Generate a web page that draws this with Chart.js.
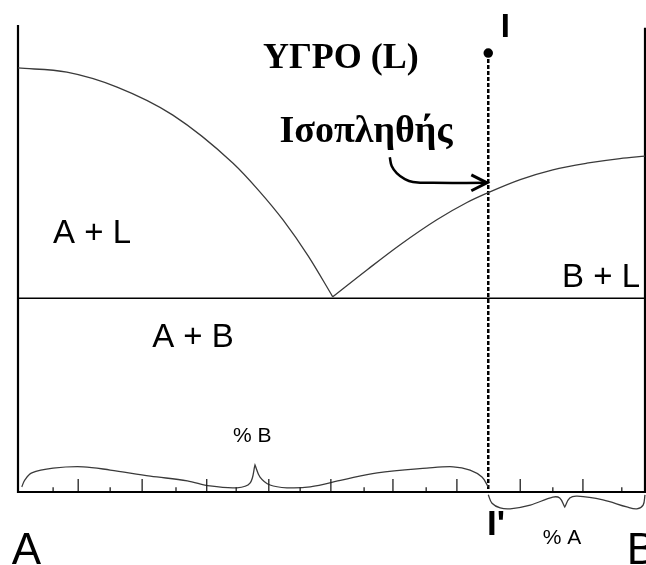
<!DOCTYPE html>
<html>
<head>
<meta charset="utf-8">
<script src="https://cdn.jsdelivr.net/npm/chart.js@4/dist/chart.umd.min.js"></script>
<style>
  html, body { margin: 0; padding: 0; background: #fff; }
  #wrap { width: 646px; height: 565px; position: relative; }
</style>
</head>
<body>
<div id="wrap"><canvas id="canvas"></canvas></div>
<script>
// composition (% B) on x, temperature (arbitrary units) on y

// liquidus of A, from pure A down to the eutectic
let liquidusA = [[0, 90.8], [7.8, 89.9], [15.8, 86.7], [24.7, 80.7], [34.3, 70.4], [38.3, 64.7], [42.3, 58.2], [46.3, 50.5], [50.2, 41.8]];
// liquidus of B, from the eutectic up to pure B
let liquidusB = [[50.2, 41.8], [55.7, 47.6], [60.9, 52.9], [66.8, 58.3], [71.6, 62.0], [74.8, 64.0], [80.1, 66.9], [85.3, 69.0], [90.7, 70.4], [96.0, 71.4], [100, 71.9]];
// eutectic horizontal
let eutecticY = 41.5;
// isopleth (composition of the alloy I), top temperature
let isoplethX = 75;
let isoplethTop = 94;
// frame: left axis, bottom axis, right axis
let frame = [[0, 100], [0, 0], [100, 0], [100, 99.4]];
// ticks on the composition axis
let longTicks = [9.6, 19.8, 30.1, 40, 49.9, 59.8, 70, 80.1, 90.1];
let shortTicks = [5.6, 14.7, 25.2, 34.8, 45, 55.2, 65.1, 85.3, 96.3];
// braces (% B above the axis, % A below), tip point doubled for a sharp cusp
let braceB = [[0.6, 1.1], [1.1, 2.6], [2.2, 4.1], [5.6, 5.1], [10.4, 5.4], [14.7, 4.7], [21.1, 3.4], [27.0, 2.4], [30.6, 1.3], [34.9, 0.9], [37.0, 1.9], [37.8, 5.8], [37.8, 5.8], [38.6, 3.2], [40.2, 1.5], [42.9, 0.9], [46.6, 1.1], [51.8, 2.6], [57.3, 4.1], [65.2, 5.1], [69.4, 5.4], [72.1, 4.7], [74.0, 3.2], [75.0, 1.1]];
let braceA = [[75.0, -0.6], [75.6, -2.4], [76.9, -3.4], [78.5, -3.6], [81.7, -2.8], [85.3, -1.1], [86.4, -1.3], [87.2, -3.2], [87.2, -3.2], [88.0, -1.3], [89.2, -0.9], [93.3, -1.7], [97.1, -3.2], [98.7, -3.6], [99.7, -2.8], [100, -0.6]];
// arrow pointing at the isopleth
let arrowPath = [[59.3, 71.7], [59.6, 69.8], [60.4, 68.3], [61.7, 67.0], [63.0, 66.4], [66.2, 66.2], [74.6, 66.2]];
let arrowHead = [[72.3, 67.9], [74.8, 66.2], [72.3, 64.5]];

// text labels, placed in data units
let labels = [
    { text: 'ΥΓΡΟ (L)', x: 51.5, y: 90.8, font: 'bold 36px "Liberation Serif"', align: 'center' },
    { text: 'Ισοπληθής', x: 55.5, y: 74.9, font: 'bold 38px "Liberation Serif"', align: 'center' },
    { text: 'I', x: 77.0, y: 97.4, font: 'bold 33px "Liberation Sans"', align: 'left' },
    { text: 'A + L', x: 5.6, y: 53.3, font: '33px "Liberation Sans"', align: 'left' },
    { text: 'B + L', x: 99.2, y: 43.9, font: '33px "Liberation Sans"', align: 'right' },
    { text: 'A + B', x: 21.4, y: 31.0, font: '33px "Liberation Sans"', align: 'left' },
    { text: '% B', x: 34.3, y: 10.7, font: '21px "Liberation Sans"', align: 'left' },
    { text: "I'", x: 74.8, y: -9.2, font: 'bold 35px "Liberation Sans"', align: 'left' },
    { text: '% A', x: 83.7, y: -11.1, font: '21px "Liberation Sans"', align: 'left' },
    { text: 'A', x: -1.0, y: -15.4, font: '44px "Liberation Sans"', align: 'left' },
    { text: 'B', x: 97.1, y: -15.4, font: '44px "Liberation Sans"', align: 'left' }
];

function pts(arr) {
    return arr.map(p => ({ x: p[0], y: p[1] }));
}

function tickSegments(xs, len) {
    let out = [];
    xs.forEach(x => {
        out.push({ x: x, y: 0 }, { x: x, y: len }, { x: x, y: null });
    });
    return out;
}

let textPlugin = {
    id: 'phaseText',
    afterDatasetsDraw(chart) {
        let ctx = chart.ctx;
        let xs = chart.scales.x, ys = chart.scales.y;
        ctx.save();
        ctx.fillStyle = '#000';
        ctx.textBaseline = 'alphabetic';
        labels.forEach(l => {
            ctx.font = l.font;
            ctx.textAlign = l.align;
            ctx.fillText(l.text, xs.getPixelForValue(l.x), ys.getPixelForValue(l.y));
        });
        ctx.restore();
    }
};

let curve = { borderColor: '#3a3a3a', borderWidth: 1.3, pointRadius: 0, cubicInterpolationMode: 'monotone', clip: false };

let datasets = [
    Object.assign({ data: pts(liquidusA) }, curve),
    Object.assign({ data: pts(liquidusB) }, curve),
    { data: [{ x: 0, y: eutecticY }, { x: 100, y: eutecticY }], borderColor: '#000', borderWidth: 1.5, pointRadius: 0, tension: 0 },
    { data: pts(frame), borderColor: '#000', borderWidth: 2.2, pointRadius: 0, tension: 0, clip: false },
    { data: tickSegments(longTicks, 2.8), borderColor: '#222', borderWidth: 1.3, pointRadius: 0, tension: 0, spanGaps: false },
    { data: tickSegments(shortTicks, 1.0), borderColor: '#222', borderWidth: 1.3, pointRadius: 0, tension: 0, spanGaps: false },
    { data: pts(braceB), borderColor: '#3a3a3a', borderWidth: 1.3, pointRadius: 0, tension: 0.35, clip: false },
    { data: pts(braceA), borderColor: '#3a3a3a', borderWidth: 1.3, pointRadius: 0, tension: 0.35, clip: false },
    {
        data: [{ x: isoplethX, y: isoplethTop }, { x: isoplethX, y: 0 }],
        borderColor: '#000', borderWidth: 2.5, borderDash: [4, 2], tension: 0,
        pointRadius: c => c.dataIndex === 0 ? 3.5 : 0,
        pointBackgroundColor: '#000', pointBorderColor: '#000'
    },
    { data: pts(arrowPath), borderColor: '#000', borderWidth: 2.5, pointRadius: 0, tension: 0.4 },
    { data: pts(arrowHead), borderColor: '#000', borderWidth: 3, pointRadius: 0, tension: 0, borderJoinStyle: 'miter' }
];

let ctx = document.getElementById('canvas').getContext('2d');

let phaseChart = new Chart(ctx, {
    type: 'line',
    data: { datasets: datasets },
    options: {
        responsive: true,
        maintainAspectRatio: false,
        animation: false,
        layout: { autoPadding: false, padding: { left: 18, right: 1, top: 25, bottom: 73 } },
        elements: { line: { capBezierPoints: false } },
        plugins: { legend: { display: false }, tooltip: { enabled: false } },
        scales: {
            x: { type: 'linear', min: 0, max: 100, display: false },
            y: { type: 'linear', min: 0, max: 100, display: false }
        }
    },
    plugins: [textPlugin]
});
</script>
</body>
</html>
